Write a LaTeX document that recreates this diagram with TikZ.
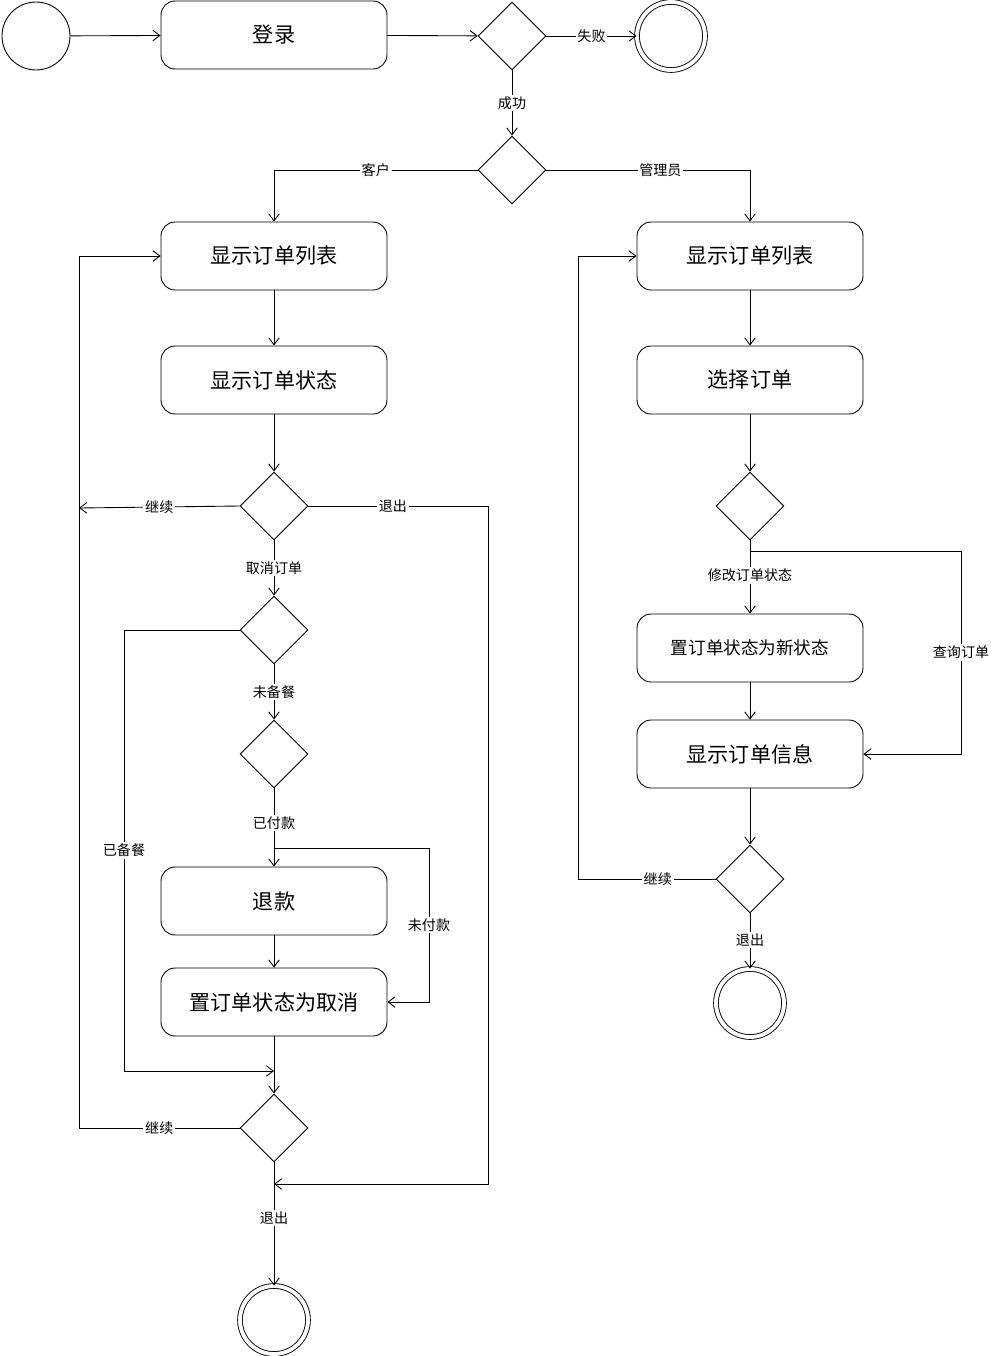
\documentclass[tikz,border=0pt]{standalone}
\usepackage{fontspec}
\setmainfont{Noto Sans CJK SC}
\usetikzlibrary{arrows.meta,shapes.geometric}
\begin{document}
\begin{tikzpicture}[x=0.02cm,y=-0.02cm,
  box/.style={draw,rounded corners=8pt,minimum width=4.52cm,minimum height=1.36cm,font=\fontsize{12}{14}\selectfont,inner sep=0pt},
  dia/.style={draw,diamond,minimum width=1.36cm,minimum height=1.36cm,inner sep=0pt},
  ini/.style={draw,circle,minimum size=1.36cm,inner sep=0pt},
  fin/.style={draw,circle,minimum size=1.36cm,inner sep=0pt,double,double distance=2.2pt},
  lab/.style={fill=white,font=\fontsize{8}{9}\selectfont,inner sep=1pt},
  ar/.style={-{Straight Barb[length=4pt,width=6pt]}},
  every path/.style={line width=0.5pt}]
\useasboundingbox (0,0) rectangle (1003,1356);
\node[ini] (s) at (36,36) {};
\node[box] (login) at (274,35) {登录};
\node[dia] (d1) at (512,36) {};
\node[fin] (f1) at (671,36) {};
\node[dia] (d2) at (512,170) {};
\node[box] (L1) at (274,256) {显示订单列表};
\node[box] (L2) at (274,380) {显示订单状态};
\node[dia] (dl1) at (274,506) {};
\node[dia] (dl2) at (274,630) {};
\node[dia] (dl3) at (274,754) {};
\node[box] (L3) at (274,901) {退款};
\node[box] (L4) at (274,1002) {置订单状态为取消};
\node[dia] (dl4) at (274,1128) {};
\node[fin] (f2) at (274,1320) {};
\node[box] (R1) at (750,256) {显示订单列表};
\node[box] (R2) at (750,380) {选择订单};
\node[dia] (dr1) at (750,506) {};
\node[box,font=\fontsize{10}{12}\selectfont] (R3) at (750,648) {置订单状态为新状态};
\node[box] (R4) at (750,754) {显示订单信息};
\node[dia] (dr2) at (750,879) {};
\node[fin] (f3) at (750,1003) {};
\coordinate (c1) at (274,848);
\coordinate (c2) at (750,551);

\draw[ar] (s) -- (login);
\draw[ar] (login) -- (d1);
\draw[ar] (d1) -- node[lab,pos=0.5]{失败} (f1);
\draw[ar] (d1) -- node[lab]{成功} (d2);
\draw[ar] (d2) -| node[lab,pos=0.25]{客户} (L1);
\draw[ar] (d2) -| node[lab,pos=0.28]{管理员} (R1);
\draw[ar] (L1) -- (L2);
\draw[ar] (L2) -- (dl1);
\draw[ar] (dl1.west) -- node[lab]{继续} (79,508);
\draw[ar] (dl4.west) -- node[lab]{继续} (79,1128) -- (79,256) -- (L1.west);
\draw[ar] (dl1.east) -- node[lab,pos=0.47]{退出} (488,506) -- (488,1184) -- (274,1184);
\draw[ar] (dl1) -- node[lab]{取消订单} (dl2);
\draw[ar] (dl2.west) -- (124,630) -- node[lab]{已备餐} (124,1071) -- (274,1071);
\draw[ar] (dl2) -- node[lab]{未备餐} (dl3);
\draw[ar] (dl3) -- node[lab,pos=0.44]{已付款} (L3);
\draw[ar] (c1) -- (429,848) -- node[lab]{未付款} (429,1002) -- (L4.east);
\draw[ar] (L3) -- (L4);
\draw[ar] (L4) -- (dl4);
\draw[ar] (dl4) -- node[lab,pos=0.45]{退出} (f2);
\draw[ar] (R1) -- (R2);
\draw[ar] (R2) -- (dr1);
\draw[ar] (dr1) -- node[lab,pos=0.48]{修改订单状态} (R3);
\draw[ar] (c2) -- (961,551) -- node[lab]{查询订单} (961,754) -- (R4.east);
\draw[ar] (R3) -- (R4);
\draw[ar] (R4) -- (dr2);
\draw[ar] (dr2.west) -- node[lab,pos=0.42]{继续} (578,879) -- (578,256) -- (R1.west);
\draw[ar] (dr2) -- node[lab,pos=0.48]{退出} (f3);
\end{tikzpicture}
\end{document}
